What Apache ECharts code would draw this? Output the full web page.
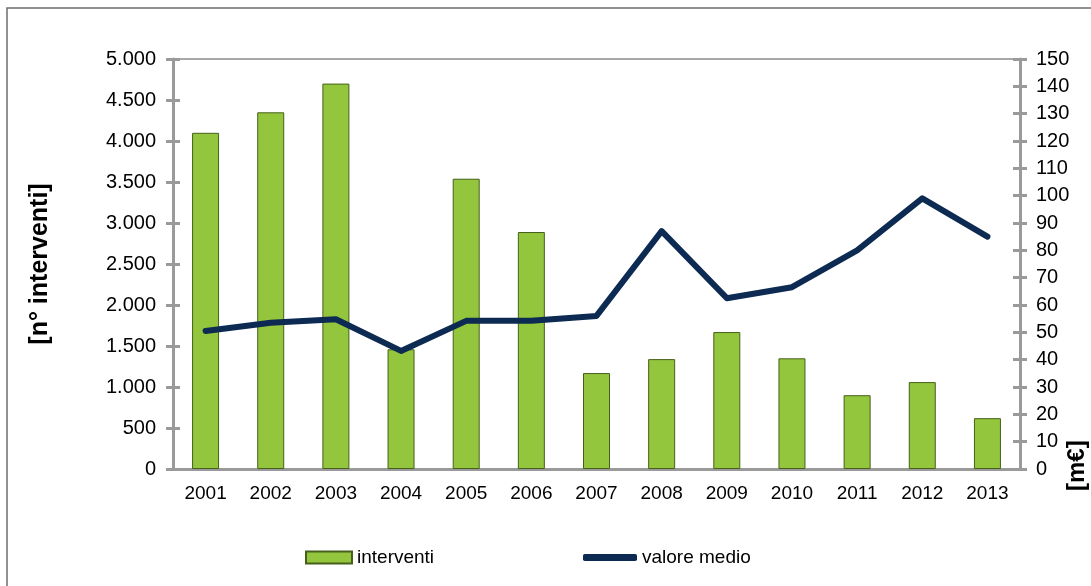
<!DOCTYPE html>
<html>
<head>
<meta charset="utf-8">
<script src="https://cdn.jsdelivr.net/npm/echarts@6/dist/echarts.min.js"></script>
<style>
  html, body { margin: 0; padding: 0; background: #fff; }
  #chart { width: 1091px; height: 586px; }
</style>
</head>
<body>
<div id="chart"></div>
<script>
// dati
const years = ['2001', '2002', '2003', '2004', '2005', '2006', '2007',
               '2008', '2009', '2010', '2011', '2012', '2013'];
const interventi = [4100, 4350, 4700, 1460, 3540, 2890, 1170, 1340, 1670, 1350, 900, 1060, 620];
const valoreMedio = [50.5, 53.5, 54.8, 43.2, 54.2, 54.2, 56, 87, 62.5, 66.5, 80, 99, 85];

const leftMax = 5000, leftStep = 500;
const rightMax = 150, rightStep = 10;

const font = 'Liberation Sans, Arial, sans-serif';
const axisGray = '#9a9a9a';

// separatore migliaia con il punto
const fmtThousands = v => String(v).replace(/\B(?=(\d{3})+(?!\d))/g, '.');

var myChart = echarts.init(document.getElementById('chart'));

var option = {
    animation: false,
    textStyle: { fontFamily: font },
    grid: {
        left: 173, right: 71, top: 59, bottom: 117,
        show: true, borderColor: '#a8a8a8', borderWidth: 2
    },
    legend: [
        {
            data: [{ name: 'interventi', icon: 'rect' }], left: 300, top: 543,
            itemWidth: 46, itemHeight: 12,
            textStyle: { fontSize: 19, color: '#000', fontFamily: font }
        },
        {
            data: [{ name: 'valore medio', icon: 'roundRect' }], left: 578, top: 543,
            itemWidth: 54, itemHeight: 7,
            textStyle: { fontSize: 19, color: '#000', fontFamily: font }
        }
    ],
    xAxis: [
        {
            type: 'category', data: years,
            axisLine: { lineStyle: { color: axisGray, width: 3 } },
            axisTick: { length: 6, lineStyle: { color: axisGray, width: 3 } },
            axisLabel: { color: '#000', fontSize: 19, margin: 15 }
        },
        {
            type: 'category', data: years, position: 'bottom',
            axisLine: { show: false },
            axisTick: { inside: true, length: 6, lineStyle: { color: axisGray, width: 3 } },
            axisLabel: { show: false }
        }
    ],
    yAxis: [
        {
            type: 'value', min: 0, max: leftMax, interval: leftStep,
            name: '[n° interventi]', nameLocation: 'middle', nameRotate: 90, nameGap: 120,
            nameTextStyle: { fontSize: 25, fontWeight: 'bold', color: '#000', fontFamily: font },
            axisLine: { show: true, lineStyle: { color: axisGray, width: 3 } },
            axisTick: { show: true, length: 7, lineStyle: { color: axisGray, width: 3 } },
            axisLabel: { color: '#000', fontSize: 20, margin: 17, formatter: fmtThousands },
            splitLine: { show: false }
        },
        {
            type: 'value', min: 0, max: rightMax, interval: rightStep, position: 'right',
            axisLine: { show: true, lineStyle: { color: axisGray, width: 3 } },
            axisTick: { show: true, length: 7, lineStyle: { color: axisGray, width: 3 } },
            axisLabel: { color: '#000', fontSize: 20, margin: 16 },
            splitLine: { show: false }
        },
        {
            type: 'value', min: 0, max: leftMax, interval: leftStep, position: 'left',
            axisLine: { show: false },
            axisTick: { show: true, inside: true, length: 7, lineStyle: { color: axisGray, width: 3 } },
            axisLabel: { show: false }, splitLine: { show: false }
        },
        {
            type: 'value', min: 0, max: rightMax, interval: rightStep, position: 'right',
            axisLine: { show: false },
            axisTick: { show: true, inside: true, length: 7, lineStyle: { color: axisGray, width: 3 } },
            axisLabel: { show: false }, splitLine: { show: false }
        }
    ],
    graphic: [
        {
            type: 'rect', silent: true,
            shape: { x: 7, y: 8, width: 1110, height: 620 },
            style: { fill: 'none', stroke: '#6e6e6e', lineWidth: 1.5 }
        },
        {
            type: 'text', silent: true, x: 1065, y: 491, rotation: Math.PI / 2,
            style: { text: '[m€]', fontSize: 24, fontWeight: 'bold', fill: '#000', fontFamily: font }
        }
    ],
    series: [
        {
            name: 'interventi', type: 'bar', data: interventi,
            xAxisIndex: 0, yAxisIndex: 0, barWidth: 27,
            itemStyle: { color: '#93c63d', borderColor: '#46601b', borderWidth: 1 }
        },
        {
            name: 'valore medio', type: 'line', data: valoreMedio,
            xAxisIndex: 0, yAxisIndex: 1,
            showSymbol: false, symbol: 'none',
            lineStyle: { color: '#0c2a52', width: 6, cap: 'round', join: 'round' },
            itemStyle: { color: '#0c2a52' }
        }
    ]
};

myChart.setOption(option);
</script>
</body>
</html>
